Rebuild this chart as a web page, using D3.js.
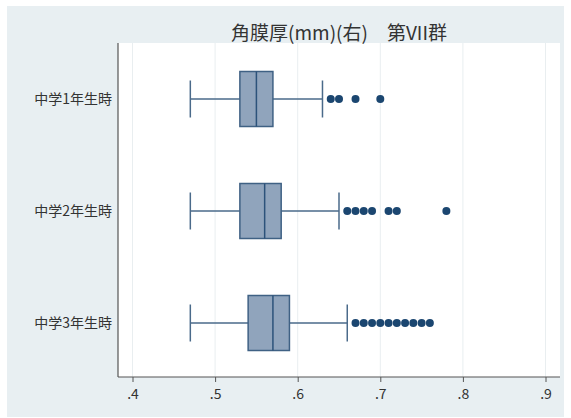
<!DOCTYPE html>
<html>
<head>
<meta charset="utf-8">
<script src="https://cdn.jsdelivr.net/npm/d3@7"></script>
<style>
html,body{margin:0;padding:0;background:#fff;}
svg{display:block;}
text{font-family:"Noto Sans CJK JP","Noto Sans",sans-serif;}
</style>
</head>
<body>
<svg id="chart" width="571" height="418"></svg>
<script>
const title = "角膜厚(mm)(右)　第VII群";
const categories = ["中学1年生時", "中学2年生時", "中学3年生時"];
const lowerWhisker = [0.47, 0.47, 0.47];
const q1 = [0.53, 0.53, 0.54];
const median = [0.55, 0.56, 0.57];
const q3 = [0.57, 0.58, 0.59];
const upperWhisker = [0.63, 0.65, 0.66];
const outliers = [
  [0.64, 0.65, 0.67, 0.70],
  [0.66, 0.67, 0.68, 0.69, 0.71, 0.72, 0.78],
  [0.67, 0.68, 0.69, 0.70, 0.71, 0.72, 0.73, 0.74, 0.75, 0.76]
];
const tickValues = [0.4, 0.5, 0.6, 0.7, 0.8, 0.9];
const tickLabels = [".4", ".5", ".6", ".7", ".8", ".9"];

const svg = d3.select("#chart");
const plot = {left: 118, right: 560, top: 43, bottom: 377};

svg.append("rect").attr("x", 7).attr("y", 6).attr("width", 557).attr("height", 411)
  .attr("fill", "#e8eff2");
svg.append("rect").attr("x", plot.left).attr("y", plot.top)
  .attr("width", plot.right - plot.left).attr("height", plot.bottom - plot.top)
  .attr("fill", "#ffffff");

const x = d3.scaleLinear().domain([0.4, 0.9]).range([132.5, 545.5]);
const y = d3.scalePoint().domain(categories).range([plot.top, plot.bottom + 2]).padding(0.5);
const boxH = 55, capH = 37;

// grid
svg.append("g").selectAll("line").data(tickValues).join("line")
  .attr("x1", d => x(d)).attr("x2", d => x(d))
  .attr("y1", plot.top).attr("y2", plot.bottom)
  .attr("stroke", "#e9eef0").attr("stroke-width", 1);

// title
svg.append("text").attr("x", (plot.left + plot.right) / 2).attr("y", 40)
  .attr("text-anchor", "middle").attr("font-size", 19).attr("fill", "#333")
  .text(title);

// x axis
const xAxis = d3.axisBottom(x).tickValues(tickValues)
  .tickFormat((d, i) => tickLabels[i]).tickSize(5).tickPadding(7);
const gx = svg.append("g").attr("transform", `translate(0,${plot.bottom})`).call(xAxis);
gx.select(".domain").attr("d", `M${plot.left},0H${plot.right}`).attr("stroke", "#555").attr("stroke-width", 1.2);
gx.selectAll(".tick line").attr("stroke", "#555");
gx.selectAll(".tick text").attr("font-size", 14).attr("fill", "#333")
  .attr("font-family", "Liberation Sans, Arial, sans-serif");

// y axis
const yAxis = d3.axisLeft(y).tickSize(0).tickPadding(6);
const gy = svg.append("g").attr("transform", `translate(${plot.left},0)`).call(yAxis);
gy.select(".domain").attr("d", `M0,${plot.top}V${plot.bottom}`).attr("stroke", "#555").attr("stroke-width", 1.2);
gy.selectAll(".tick text").attr("font-size", 14).attr("fill", "#333");

const strokeC = "#4a6a8a";
const g = svg.append("g");
categories.forEach((c, i) => {
  const cy = y(c);
  g.append("line").attr("x1", x(lowerWhisker[i])).attr("x2", x(q1[i]))
    .attr("y1", cy).attr("y2", cy).attr("stroke", strokeC).attr("stroke-width", 1.5);
  g.append("line").attr("x1", x(q3[i])).attr("x2", x(upperWhisker[i]))
    .attr("y1", cy).attr("y2", cy).attr("stroke", strokeC).attr("stroke-width", 1.5);
  [lowerWhisker[i], upperWhisker[i]].forEach(v => {
    g.append("line").attr("x1", x(v)).attr("x2", x(v))
      .attr("y1", cy - capH / 2).attr("y2", cy + capH / 2)
      .attr("stroke", strokeC).attr("stroke-width", 1.5);
  });
  g.append("rect").attr("x", x(q1[i])).attr("y", cy - boxH / 2)
    .attr("width", x(q3[i]) - x(q1[i])).attr("height", boxH)
    .attr("fill", "#90a4bc").attr("stroke", "#3f6184").attr("stroke-width", 1.5);
  g.append("line").attr("x1", x(median[i])).attr("x2", x(median[i]))
    .attr("y1", cy - boxH / 2).attr("y2", cy + boxH / 2)
    .attr("stroke", "#2c527a").attr("stroke-width", 1.5);
  g.selectAll(null).data(outliers[i]).join("circle")
    .attr("cx", d => x(d)).attr("cy", cy).attr("r", 4)
    .attr("fill", "#1b4670");
});
</script>
</body>
</html>
